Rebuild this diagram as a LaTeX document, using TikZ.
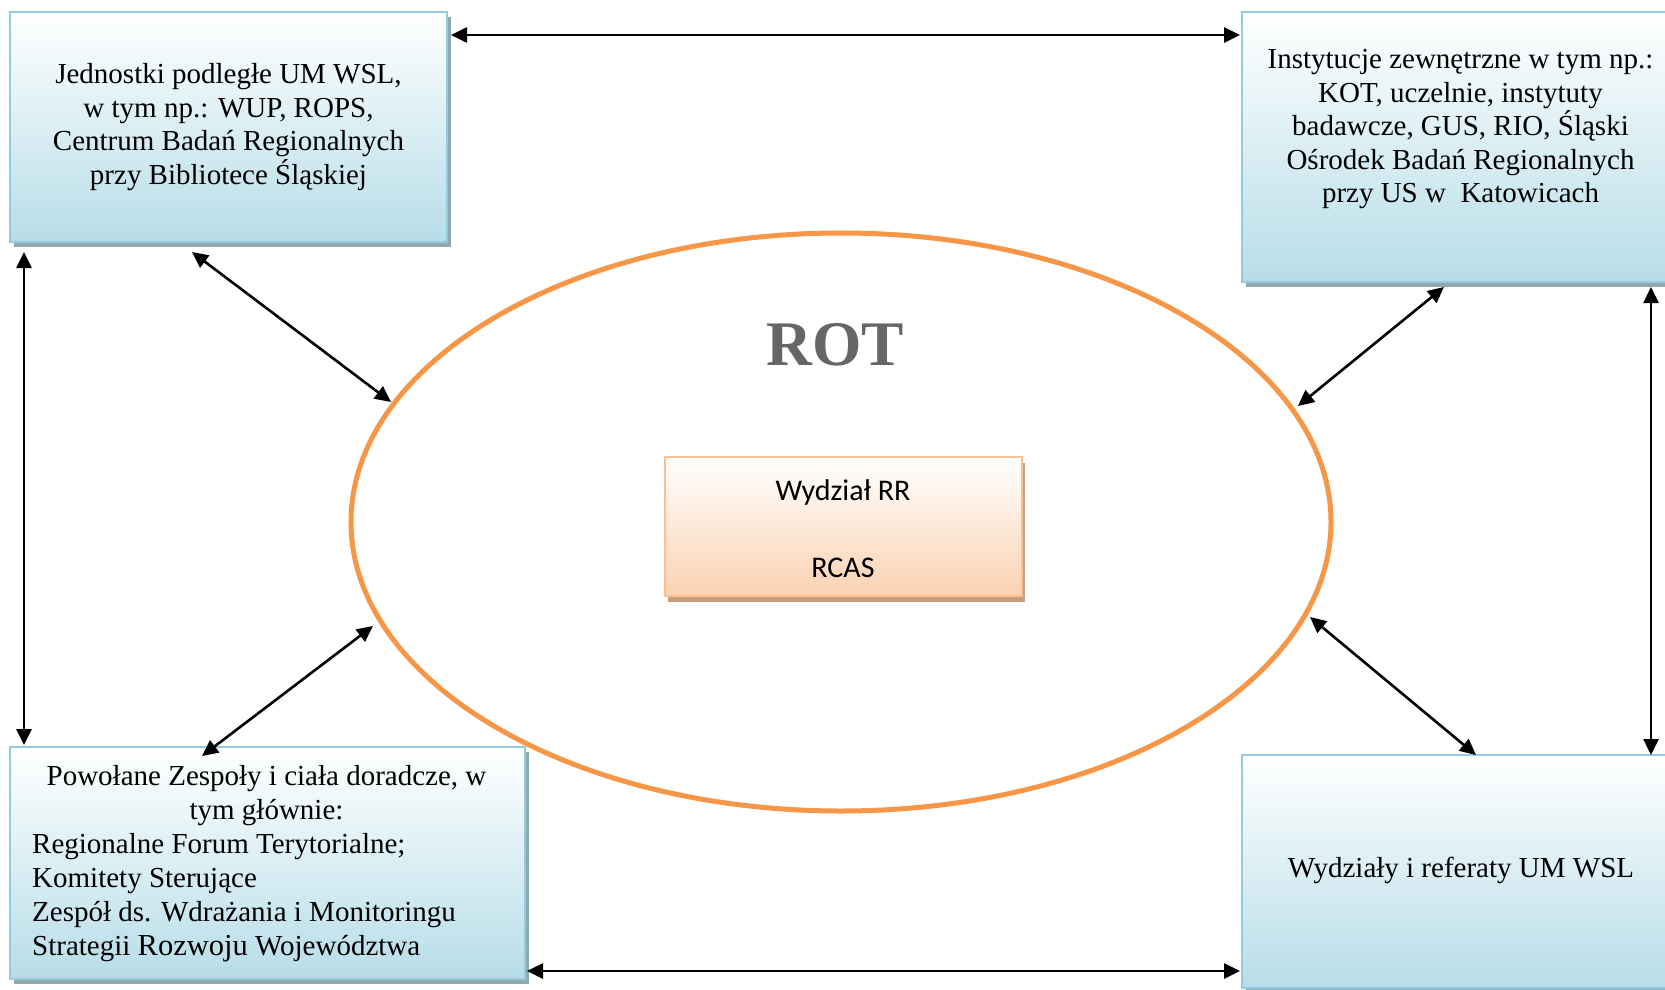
\documentclass[tikz,border=0pt]{standalone}
\usepackage{fontspec}
\setmainfont{Liberation Serif}
\newfontfamily\calfont{Carlito}
\usetikzlibrary{arrows.meta,shapes.geometric,shadows}
\definecolor{bluefill}{HTML}{B7DDE8}
\definecolor{bluemid}{HTML}{DCEFF4}
\definecolor{blueline}{HTML}{93CDDD}
\definecolor{blueshadow}{HTML}{8FA9B0}
\definecolor{peach}{HTML}{FAD2B2}
\definecolor{peachmid}{HTML}{FDEBDD}
\definecolor{peachline}{HTML}{FAC090}
\definecolor{peachshadow}{HTML}{C99E7E}
\definecolor{orangeline}{HTML}{F79646}
\definecolor{rotgray}{HTML}{666666}
\begin{document}
\begin{tikzpicture}[x=1pt,y=-1pt,
  bluebox/.style={draw=blueline, line width=2pt, top color=white, middle color=bluemid, bottom color=bluefill, inner sep=0pt,
    general shadow={fill=blueshadow, shadow xshift=4pt, shadow yshift=-5pt}},
  peachbox/.style={draw=peachline, line width=2pt, top color=white, middle color=peachmid, bottom color=peach, inner sep=0pt,
    general shadow={fill=peachshadow, shadow xshift=3pt, shadow yshift=-6pt}},
  boxtext/.style={font=\fontsize{29}{33.4}\selectfont, inner sep=0pt, anchor=base},
  arr/.style={line width=2.6pt, {Triangle[length=16pt,width=15pt]}-{Triangle[length=16pt,width=15pt]}}]
\useasboundingbox (0,0) rectangle (1665,990);
\clip (0,0) rectangle (1665,990);
\fill[white] (0,0) rectangle (1665,990);

% ellipse
\node[ellipse, draw=orangeline, line width=5pt, minimum width=980pt, minimum height=578pt, inner sep=0pt] (rot) at (841,522) {};
\node[font=\bfseries\fontsize{63.5}{70}\selectfont, text=rotgray, inner sep=0pt, anchor=base] (rottxt) at (835,365) {ROT};

% boxes
\node[bluebox, minimum width=437pt, minimum height=230pt] (tl) at (228.5,127) {};
\node[bluebox, minimum width=437pt, minimum height=270pt] (tr) at (1460.5,147) {};
\node[bluebox, minimum width=515pt, minimum height=232pt] (bl) at (267.5,863) {};
\node[bluebox, minimum width=437pt, minimum height=233pt] (br) at (1460.5,871.5) {};
\node[peachbox, minimum width=357pt, minimum height=139pt] (rr) at (843.5,526.5) {};

% texts (base anchor = baseline of the last line)
\node[boxtext, align=center] (tltxt) at (228.5,184) {Jednostki podległe UM WSL,\\w tym np.: WUP, ROPS,\\Centrum Badań Regionalnych\\przy Bibliotece Śląskiej};
\node[boxtext, align=center] (trtxt) at (1460.5,202.5) {Instytucje zewnętrzne w tym np.:\\KOT, uczelnie, instytuty\\badawcze, GUS, RIO, Śląski\\Ośrodek Badań Regionalnych\\przy US w\ \ Katowicach};
\node[boxtext, align=center, font=\fontsize{29}{34}\selectfont] (bltxta) at (266.5,819.5) {Powołane Zespoły i ciała doradcze, w\\tym głównie:};
\node[boxtext, align=left, anchor=base west, font=\fontsize{29}{34}\selectfont] (bltxtb) at (32,955) {Regionalne Forum Terytorialne;\\Komitety Sterujące\\Zespół ds. Wdrażania i Monitoringu\\Strategii {\fontsize{30.5}{34}\selectfont Rozwoju} Województwa};
\node[boxtext] (brtxt) at (1461,877) {Wydziały i referaty UM WSL};
\node[inner sep=0pt, anchor=base, align=center, font=\calfont\fontsize{30}{77.7}\selectfont] (rrtxt) at (843,577.7) {Wydział RR\\RCAS};

% connector end points
\coordinate (t1) at (451,35);   \coordinate (t2) at (1240,35);
\coordinate (l1) at (24,252);   \coordinate (l2) at (24,745);
\coordinate (r1) at (1651,287); \coordinate (r2) at (1651,755);
\coordinate (b1) at (527,971);  \coordinate (b2) at (1240,971);
\coordinate (d1) at (192,252);  \coordinate (d2) at (391,402);
\coordinate (e1) at (1444,287); \coordinate (e2) at (1298,406);
\coordinate (f1) at (373,626);  \coordinate (f2) at (202,756);
\coordinate (g1) at (1310,617); \coordinate (g2) at (1476,755);

\draw[arr] (t1) -- (t2);
\draw[arr] (l1) -- (l2);
\draw[arr] (r1) -- (r2);
\draw[arr] (b1) -- (b2);
\draw[arr] (d1) -- (d2);
\draw[arr] (e1) -- (e2);
\draw[arr] (f1) -- (f2);
\draw[arr] (g1) -- (g2);
\end{tikzpicture}
\end{document}
